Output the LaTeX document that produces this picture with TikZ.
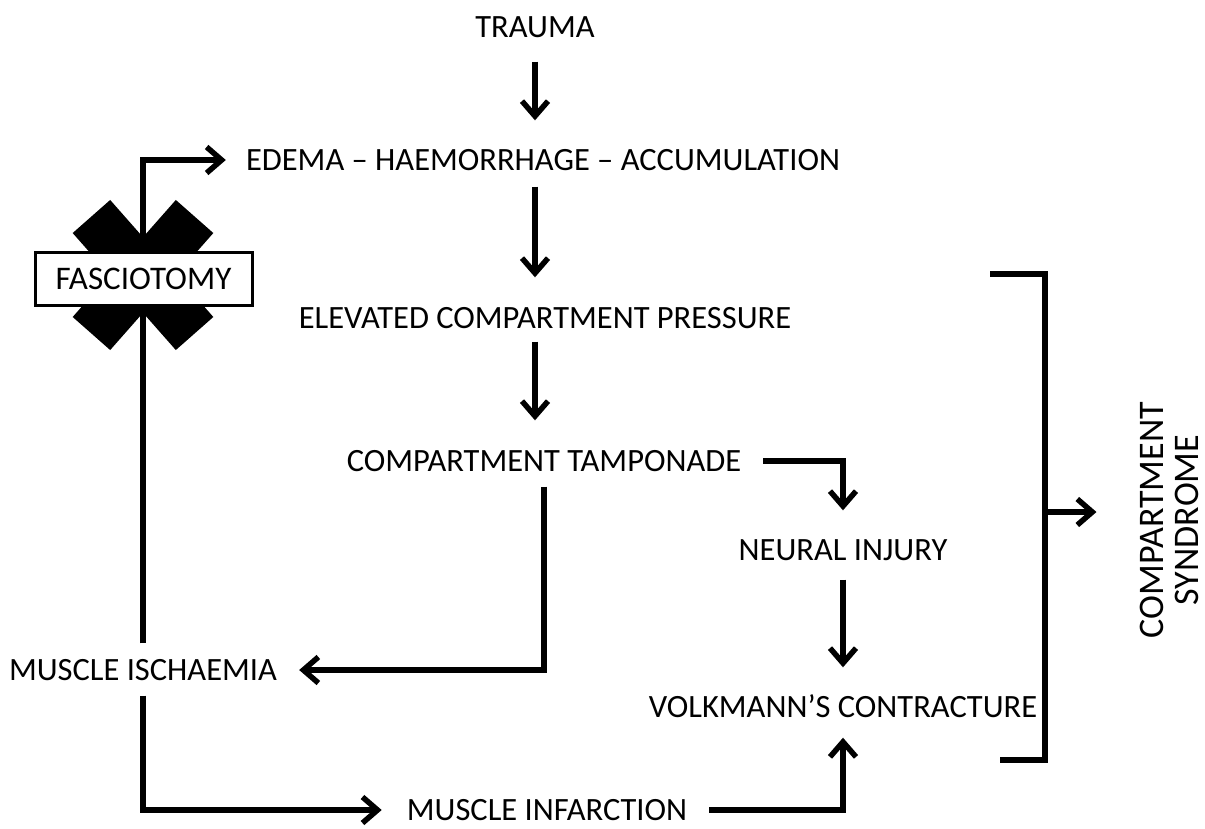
\documentclass[tikz,border=0pt]{standalone}
\usepackage{fontspec}
\setmainfont{Carlito}
\usetikzlibrary{arrows.meta}

\begin{document}
\begin{tikzpicture}[x=1pt, y=-1pt,
    lbl/.style={inner sep=0pt, text height=21pt, text depth=0pt,
                font=\fontsize{32.5}{36}\selectfont},
    box/.style={draw, line width=3pt, fill=white, minimum width=217pt,
                minimum height=53pt, inner sep=0pt, font=\fontsize{33}{36}\selectfont},
    arrow/.style={-{Straight Barb[length=15pt, width=26pt]}, line width=5.5pt},
    bar/.style={line width=5.5pt}
  ]
    \useasboundingbox (0,0) rectangle (1205,828);

    \node[lbl] (trauma) at (535,27) {TRAUMA};
    \node[lbl] (edema) at (543,160) {EDEMA – HAEMORRHAGE – ACCUMULATION};
    \node[lbl] (elevated) at (545,318) {ELEVATED COMPARTMENT PRESSURE};
    \node[lbl] (tamponade) at (544,461) {COMPARTMENT TAMPONADE};
    \node[lbl] (neural) at (843,550) {NEURAL INJURY};
    \node[lbl] (volkmann) at (843,707) {VOLKMANN’S CONTRACTURE};
    \node[lbl] (ischaemia) at (143,670) {MUSCLE ISCHAEMIA};
    \node[lbl] (infarction) at (547,810) {MUSCLE INFARCTION};
    \node[rotate=90, align=center, inner sep=0pt, font=\fontsize{36}{35}\selectfont]
      (syndrome) at (1169,520) {COMPARTMENT\\SYNDROME};

    \fill[shift={(143,275)}, rotate=48.6] (-78,-25) rectangle (78,25);
    \fill[shift={(143,275)}, rotate=-48.6] (-78,-25) rectangle (78,25);

    \draw[arrow, shorten <=24pt, shorten >=29pt] (trauma.south) -- (trauma.south |- edema.north);
    \draw[arrow, shorten <=16pt, shorten >=30pt] (trauma |- edema.south) -- (trauma |- elevated.north);
    \draw[arrow, shorten <=13pt, shorten >=30pt] (trauma |- elevated.south) -- (trauma |- tamponade.north);
    \draw[arrow, shorten <=22pt, shorten >=29pt] (tamponade.east) -| (neural.north);
    \draw[arrow, shorten <=19pt, shorten >=29pt] (neural.south) -- (volkmann.north);
    \draw[arrow, shorten <=15pt, shorten >=22pt] (tamponade.south) |- (ischaemia.east);
    \draw[arrow, shorten <=15pt, shorten >=25pt] (ischaemia.south) |- (infarction.west);
    \draw[arrow, shorten <=22pt, shorten >=20pt] (infarction.east) -| (volkmann.south);
    \draw[arrow, shorten <=16pt, shorten >=20pt] (ischaemia.north) |- (edema.west);

    \node[box] (fasciotomy) at (143.5,278.5) {FASCIOTOMY};

    \draw[bar] (990,274) -- (1045,274) -- (1045,760) -- (1000,760);
    \coordinate (brk) at (1045,512);
    \draw[arrow, shorten >=43pt] (brk) -- (brk -| syndrome.north);
  \end{tikzpicture}
\end{document}
